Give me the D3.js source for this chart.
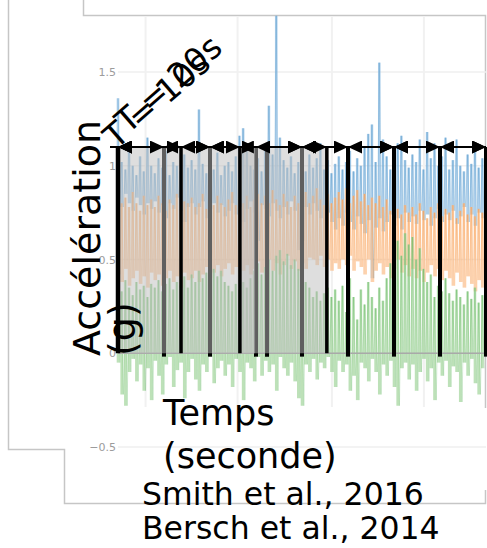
<!DOCTYPE html>
<html>
<head>
<meta charset="utf-8">
<script src="https://d3js.org/d3.v7.min.js"></script>
<style>
body { margin: 0; background: #fff; }
svg { display: block; font-family: "DejaVu Sans", sans-serif; }
</style>
</head>
<body>
<script>
// valeurs (une bande min/max par pas de 0.8 s)
var pasTemps = 0.8;
var bleuMax = [
	1.36, 1.02, 0.98, 1.12, 1.0, 0.95, 1.05, 0.97, 1.15, 1.0,
	0.96, 1.04, 0.99, 1.08, 0.95, 1.02, 1.0, 0.97, 1.06, 0.99,
	1.03, 0.98, 1.3, 1.01, 0.96, 1.04, 0.98, 1.07, 0.95, 1.0,
	1.02, 0.97, 1.05, 1.16, 1.2, 1.12, 1.0, 0.98, 1.04, 0.97,
	1.08, 1.32, 1.06, 1.8, 1.15, 1.03, 0.99, 1.05, 0.96, 1.02,
	1.0, 0.97, 1.06, 0.99, 1.04, 1.12, 0.98, 1.03, 0.96, 1.01,
	1.05, 0.98, 1.02, 1.08, 0.97, 1.04, 1.0, 1.1, 1.17, 1.22,
	1.02, 1.55, 1.14, 1.05, 0.98, 1.07, 1.12, 1.16, 1.03, 0.99,
	1.06, 1.02, 1.14, 0.98, 1.18, 1.04, 1.12, 1.0, 1.05, 1.15,
	0.98, 1.03, 1.14, 1.0, 0.97, 1.06, 1.01, 1.12, 0.99, 1.04
];
var bleuMin = [
	0.82, 0.78, 0.85, 0.8, 0.76, 0.83, 0.79, 0.74, 0.8, 0.77,
	0.81, 0.75, 0.79, 0.72, 0.8, 0.77, 0.83, 0.76, 0.7, 0.78,
	0.8, 0.74, 0.78, 0.81, 0.72, 0.77, 0.8, 0.75, 0.79, 0.73,
	0.76, 0.8, 0.74, 0.78, 0.7, 0.77, 0.81, 0.75, 0.6, 0.79,
	0.77, 0.73, 0.8, 0.76, 0.72, 0.78, 0.74, 0.81, 0.76, 0.55,
	0.6, 0.78, 0.74, 0.8, 0.76, 0.72, 0.79, 0.75, 0.7, 0.66,
	0.72, 0.68, 0.75, 0.7, 0.66, 0.73, 0.69, 0.64, 0.71, 0.4,
	0.67, 0.72, 0.65, 0.7, 0.74, 0.68, 0.72, 0.66, 0.75, 0.7,
	0.73, 0.69, 0.76, 0.71, 0.74, 0.68, 0.72, 0.77, 0.7, 0.74,
	0.71, 0.76, 0.69, 0.73, 0.78, 0.7, 0.74, 0.68, 0.75, 0.72
];
var orangeMax = [
	0.85, 0.8, 0.83, 0.78, 0.86, 0.8, 0.76, 0.84, 0.79, 0.82,
	0.78, 0.84, 0.8, 0.76, 0.82, 0.79, 0.85, 0.77, 0.81, 0.8,
	0.83, 0.78, 0.8, 0.85, 0.77, 0.82, 0.79, 0.84, 0.8, 0.78,
	0.82, 0.86, 0.79, 0.83, 0.8, 0.84, 0.78, 0.82, 0.85, 0.8,
	0.84, 0.8, 0.87, 0.82, 0.79, 0.85, 0.81, 0.78, 0.84, 0.8,
	0.83, 0.86, 0.8, 0.84, 0.88, 0.82, 0.79, 0.85, 0.8, 0.83,
	0.86, 0.82, 0.88, 0.8, 0.84, 0.87, 0.81, 0.85, 0.79, 0.83,
	0.8, 0.84, 0.78, 0.82, 0.76, 0.8, 0.77, 0.74, 0.79, 0.75,
	0.78, 0.74, 0.8, 0.76, 0.72, 0.78, 0.75, 0.8, 0.73, 0.77,
	0.75, 0.79, 0.72, 0.76, 0.8, 0.74, 0.78, 0.73, 0.77, 0.75
];
var orangeMin = [
	0.42, 0.38, 0.45, 0.36, 0.4, 0.44, 0.37, 0.41, 0.35, 0.43,
	0.39, 0.42, 0.36, 0.4, 0.44, 0.38, 0.41, 0.35, 0.43, 0.39,
	0.4, 0.44, 0.38, 0.42, 0.46, 0.4, 0.43, 0.47, 0.41, 0.45,
	0.48, 0.42, 0.46, 0.5, 0.44, 0.47, 0.42, 0.45, 0.49, 0.43,
	0.46, 0.5, 0.44, 0.48, 0.42, 0.47, 0.52, 0.45, 0.49, 0.44,
	0.48, 0.45, 0.51, 0.5, 0.47, 0.52, 0.46, 0.5, 0.44, 0.48,
	0.45, 0.5, 0.47, 0.52, 0.44, 0.49, 0.46, 0.42, 0.5, 0.38,
	0.44, 0.48, 0.42, 0.46, 0.4, 0.45, 0.5, 0.43, 0.47, 0.41,
	0.45, 0.4, 0.44, 0.38, 0.43, 0.47, 0.41, 0.45, 0.39, 0.44,
	0.4, 0.36, 0.43, 0.38, 0.35, 0.41, 0.37, 0.33, 0.39, 0.35
];
var vertMax = [
	0.37, 0.33, 0.39, 0.35, 0.31, 0.38, 0.34, 0.36, 0.3, 0.37,
	0.35, 0.39, 0.33, 0.37, 0.4, 0.34, 0.38, 0.36, 0.41, 0.35,
	0.42, 0.38, 0.44, 0.4, 0.43, 0.39, 0.45, 0.41, 0.44, 0.38,
	0.36, 0.33, 0.37, 0.34, 0.38, 0.35, 0.4, 0.44, 0.48, 0.42,
	0.46, 0.5, 0.44, 0.52, 0.55, 0.49, 0.53, 0.47, 0.5, 0.45,
	0.42, 0.38, 0.35, 0.3, 0.33, 0.28, 0.32, 0.35, 0.3, 0.34,
	0.28, 0.36, 0.22, 0.4, 0.3, 0.18, 0.34, 0.26, 0.38, 0.3,
	0.24, 0.35, 0.28, 0.4, 0.48, 0.55, 0.6, 0.52, 0.64, 0.58,
	0.62, 0.5, 0.56, 0.45, 0.38, 0.42, 0.3, 0.36, 0.33, 0.4,
	0.32, 0.28, 0.34, 0.3, 0.26, 0.33, 0.29, 0.35, 0.27, 0.31
];
var vertMin = [
	-0.05, -0.22, -0.28, -0.1, -0.03, -0.15, -0.06, -0.2, -0.08, -0.25,
	-0.04, -0.12, -0.22, -0.06, -0.02, -0.18, -0.09, -0.05, -0.24, -0.1,
	-0.03, -0.14, -0.2, -0.06, -0.1, -0.02, -0.16, -0.08, -0.04, -0.12,
	-0.06, -0.18, -0.03, -0.1, -0.25, -0.05, -0.08, -0.15, -0.02, -0.12,
	-0.04, -0.1, -0.06, -0.2, -0.02, -0.08, -0.12, -0.05, -0.15, -0.24,
	-0.28, -0.06, -0.1, -0.03, -0.14, -0.05, -0.08, -0.02, -0.1, -0.18,
	-0.04, -0.1, -0.06, -0.2, -0.12, -0.25, -0.05, -0.08, -0.15, -0.03,
	-0.1, -0.22, -0.06, -0.12, -0.04, -0.18, -0.28, -0.08, -0.05, -0.14,
	-0.06, -0.2, -0.1, -0.03, -0.15, -0.08, -0.25, -0.05, -0.12, -0.04,
	-0.18, -0.07, -0.1, -0.26, -0.05, -0.12, -0.03, -0.16, -0.22, -0.08
];
var ticksY = [-0.5, 0, 0.5, 1, 1.5];
var grilleTemps = [6, 26, 46.5, 66.5];
// fenêtres (secondes)
var fenetres10 = [0, 10, 20, 30, 40, 50, 60, 70, 80];
var fenetres20 = [0, 20, 40, 60, 80];
var smithBornes = [0, 13.7, 26.5, 45.4];
var smithZones = [[0, 13.7], [13.7, 29.8], [26.5, 45.4]];
var autresBornes = [32.4];
var hautFleches = 1.1;

var svgConfig = {
	width: 487,
	height: 548
};

var svg =
	d3.select('body')
	.append('svg')
	.attr('width', svgConfig.width)
	.attr('height', svgConfig.height);

var x = d3.scaleLinear().domain([0, 80]).range([118, 486]);
var y = d3.scaleLinear().domain([-0.5, 1.5]).range([447, 72]);

// cadre gris de l'image
svg.append('path')
	.attr('d', 'M8.5,0V449.5H64.5V503.5H485.5V490M485.5,408V15.5H83.5V0')
	.attr('fill', 'none')
	.attr('stroke', '#c6c6c6')
	.attr('stroke-width', 1.5);

// grille
svg.append('g')
	.selectAll('line')
	.data(ticksY)
	.enter()
	.append('line')
	.attr('x1', 118).attr('x2', 486)
	.attr('y1', function (d) { return y(d); })
	.attr('y2', function (d) { return y(d); })
	.attr('stroke', '#efefef')
	.attr('stroke-width', 1.5);
svg.append('g')
	.selectAll('line')
	.data(grilleTemps)
	.enter()
	.append('line')
	.attr('x1', function (d) { return x(d); })
	.attr('x2', function (d) { return x(d); })
	.attr('y1', 16).attr('y2', 407)
	.attr('stroke', '#f1f1f1')
	.attr('stroke-width', 2);

// axe y (petits chiffres gris)
var yAxis = d3.axisLeft(y).tickValues(ticksY).tickSize(0).tickPadding(0).tickFormat(d3.format('~g'));
var gy = svg.append('g')
	.attr('transform', 'translate(116,0)')
	.call(yAxis);
gy.select('.domain').remove();
gy.selectAll('text')
	.attr('fill', '#9c9c9c')
	.style('font-size', '11px')
	.style('font-family', '"DejaVu Sans", sans-serif');

// bandes des trois signaux
function dessinerBande(vMin, vMax, couleur, trait) {
	var g = svg.append('g');
	g.selectAll('rect')
		.data(vMax)
		.enter()
		.append('rect')
		.attr('x', function (d, i) { return x(i * pasTemps) - 1.3; })
		.attr('width', 2.6)
		.attr('y', function (d) { return y(d); })
		.attr('height', function (d, i) { return y(vMin[i]) - y(d); })
		.attr('fill', couleur)
		.attr('opacity', 0.72);
	var pts = [];
	vMax.forEach(function (d, i) {
		pts.push([x(i * pasTemps), y(d)]);
		pts.push([x(i * pasTemps) + 1.8, y(vMin[i])]);
	});
	g.append('path')
		.attr('d', d3.line()(pts))
		.attr('fill', 'none')
		.attr('stroke', trait)
		.attr('stroke-width', 0.7)
		.attr('opacity', 0.3);
}
dessinerBande(bleuMin, bleuMax, '#8fbde3', '#1f77b4');
dessinerBande(orangeMin, orangeMax, '#f9bf8f', '#ff7f0e');
dessinerBande(vertMin, vertMax, '#a3d69d', '#2ca02c');

// ligne zéro
svg.append('line')
	.attr('x1', 118).attr('x2', 486)
	.attr('y1', y(0)).attr('y2', y(0))
	.attr('stroke', '#a9a9a9')
	.attr('stroke-width', 1.5);

// limites des fenêtres T
svg.append('g')
	.selectAll('line')
	.data(fenetres10.slice(1).concat(autresBornes))
	.enter()
	.append('line')
	.attr('x1', function (d) { return x(d); })
	.attr('x2', function (d) { return x(d); })
	.attr('y1', y(hautFleches))
	.attr('y2', y(-0.018))
	.attr('stroke', '#000')
	.attr('stroke-width', 4);

// zones grisées
svg.append('g')
	.selectAll('rect')
	.data(smithZones)
	.enter()
	.append('rect')
	.attr('x', function (d) { return x(d[0]); })
	.attr('width', function (d) { return x(d[1]) - x(d[0]); })
	.attr('y', y(hautFleches))
	.attr('height', y(0) - y(hautFleches))
	.attr('fill', '#bdbdbd')
	.attr('opacity', 0.5);

svg.append('g')
	.selectAll('line')
	.data(smithBornes)
	.enter()
	.append('line')
	.attr('x1', function (d) { return x(d); })
	.attr('x2', function (d) { return x(d); })
	.attr('y1', y(hautFleches))
	.attr('y2', y(0))
	.attr('stroke', '#000')
	.attr('stroke-width', function (d, i) { return i == 0 ? 4.5 : 3.5; });

// flèches
svg.append('defs')
	.append('marker')
	.attr('id', 'fleche')
	.attr('markerUnits', 'userSpaceOnUse')
	.attr('markerWidth', 15)
	.attr('markerHeight', 13)
	.attr('refX', 14)
	.attr('refY', 6.5)
	.attr('orient', 'auto-start-reverse')
	.append('path')
	.attr('d', 'M0,0L14,6.5L0,13Z')
	.attr('fill', '#000');

svg.append('line')
	.attr('x1', 110).attr('x2', 486)
	.attr('y1', y(hautFleches)).attr('y2', y(hautFleches))
	.attr('stroke', '#000')
	.attr('stroke-width', 2);

function fleches(bornes) {
	var segs = d3.pairs(bornes);
	svg.append('g')
		.selectAll('line')
		.data(segs)
		.enter()
		.append('line')
		.attr('x1', function (d) { return x(d[0]); })
		.attr('x2', function (d) { return x(d[1]); })
		.attr('y1', y(hautFleches))
		.attr('y2', y(hautFleches))
		.attr('stroke', '#000')
		.attr('stroke-width', 2)
		.attr('marker-start', 'url(#fleche)')
		.attr('marker-end', 'url(#fleche)');
}
fleches(fenetres10);
fleches(fenetres20);
fleches(smithBornes);

// étiquettes
var gT = svg.append('g')
	.attr('transform', 'translate(116,150) rotate(-41)')
	.style('font-size', '33px')
	.attr('fill', '#000');
gT.append('text').attr('x', 0).attr('y', 0).text('T = 10s');
gT.append('text').attr('x', 19).attr('y', -4).text('T = 20s');

var gY = svg.append('g')
	.attr('transform', 'translate(100,356) rotate(-90)')
	.style('font-size', '38px');
gY.append('text').attr('x', 0).attr('y', 0).text('Accélération');
gY.append('text').attr('x', 0).attr('y', 35).text('(g)');

svg.append('text').attr('x', 163).attr('y', 425).style('font-size', '35px').text('Temps');
svg.append('text').attr('x', 163).attr('y', 468).style('font-size', '35px').text('(seconde)');
svg.append('text').attr('x', 142).attr('y', 505).style('font-size', '31.5px').text('Smith et al., 2016');
svg.append('text').attr('x', 142).attr('y', 539).style('font-size', '31.5px').text('Bersch et al., 2014');
</script>
</body>
</html>
